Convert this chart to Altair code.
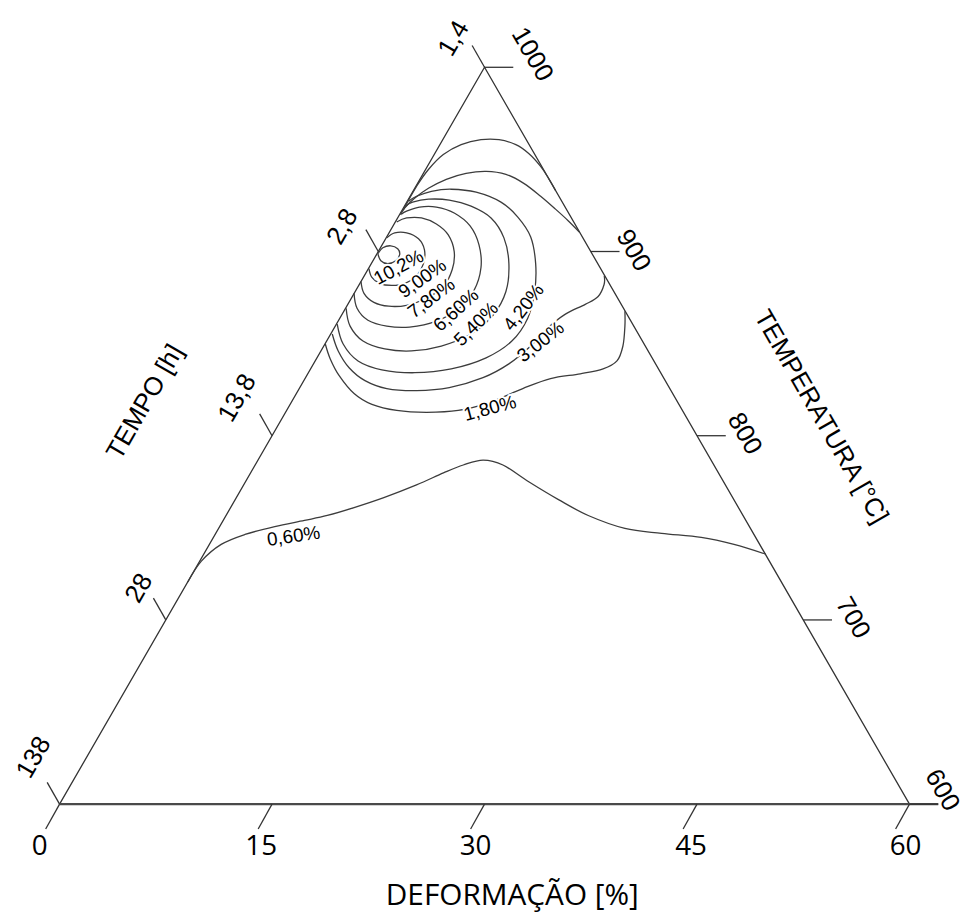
import altair as alt
import pandas as pd

# ---------------- data ----------------
deformacao_ticks = [0, 15, 30, 45, 60]
temperatura_ticks = [1000, 900, 800, 700, 600]
tempo_labels = ["1,4", "2,8", "13,8", "28", "138"]

# contour lines: x = deformação-position (0-60), y = temperatura-position (600-1000)
c060_D = [9.05, 10.01, 11.41, 13.09, 15.19, 17.29, 18.90, 20.79, 22.89, 25.20, 27.10, 28.50, 29.90, 31.30, 33.12, 35.22, 37.32, 39.91, 42.50, 45.30, 47.61, 49.85]
c060_T = [720.6, 731.9, 741.0, 746.4, 750.7, 754.0, 756.7, 761.0, 766.4, 773.3, 779.8, 784.1, 786.8, 784.1, 775.0, 765.3, 756.7, 749.7, 747.0, 744.8, 741.0, 735.7]

c180a_D = [18.76, 19.11, 19.74, 20.79, 22.05, 23.80, 25.90, 28.14, 30.32, 32.70, 34.66, 36.76, 38.37, 39.35, 39.77, 39.91, 39.91]
c180a_T = [849.8, 841.7, 832.6, 822.9, 817.0, 813.7, 812.7, 813.7, 818.0, 825.6, 831.0, 833.6, 836.3, 840.6, 848.7, 859.5, 867.6]
c180b_D = [24.29, 24.64, 25.20, 26.04, 27.09, 28.35, 29.75, 31.02, 32.21, 33.12, 33.96, 34.52, 35.01]
c180b_T = [923.0, 927.9, 935.4, 944.5, 952.6, 958.0, 960.7, 960.7, 958.0, 953.2, 946.2, 939.7, 933.2]

c300a_D = [19.25, 19.67, 20.44, 21.56, 23.10, 25.20, 27.51, 29.89, 31.72, 33.26, 34.45, 35.71, 37.11, 38.02, 38.44, 38.45]
c300a_T = [855.2, 846.0, 836.9, 829.9, 825.6, 824.5, 826.1, 831.5, 839.0, 848.7, 858.4, 866.0, 871.3, 875.6, 882.1, 886.9]
c300b_D = [24.08, 24.36, 25.06, 26.04, 27.30, 28.70, 30.11, 31.51, 32.77, 33.96, 35.01, 35.92, 36.69]
c300b_T = [919.8, 923.6, 928.9, 934.3, 939.2, 942.4, 943.5, 941.9, 937.0, 930.0, 923.0, 916.6, 910.6]

c420_D = [19.60, 20.02, 21.07, 22.75, 25.06, 27.65, 30.11, 31.93, 33.05, 33.54, 33.61, 33.26, 32.35, 31.16, 29.41, 27.65, 26.25, 25.20, 24.64]
c420_T = [860.6, 849.8, 840.6, 835.8, 834.2, 836.3, 842.3, 851.4, 863.8, 878.3, 893.4, 907.9, 918.7, 926.8, 932.2, 933.8, 932.7, 930.0, 927.3]

c540_D = [20.23, 20.51, 21.42, 22.96, 24.85, 26.95, 29.05, 30.60, 31.51, 31.72, 31.37, 30.46, 29.05, 27.51, 26.04, 24.92, 24.43]
c540_T = [869.2, 859.5, 851.4, 847.1, 846.0, 848.7, 855.2, 865.4, 878.3, 893.4, 907.4, 918.2, 924.6, 927.9, 928.4, 926.8, 924.6]

c660_D = [20.79, 21.00, 21.77, 23.10, 24.71, 26.60, 28.21, 29.26, 29.75, 29.61, 28.98, 27.86, 26.60, 25.41, 24.50, 24.15]
c660_T = [877.3, 869.2, 862.7, 859.5, 859.0, 862.2, 869.2, 878.9, 891.3, 903.6, 913.9, 920.9, 924.1, 924.1, 921.9, 920.3]

c780_D = [21.28, 21.49, 22.19, 23.24, 24.50, 25.90, 27.09, 27.72, 27.86, 27.44, 26.60, 25.55, 24.50, 23.80]
c780_T = [883.7, 877.3, 872.4, 870.3, 870.8, 874.6, 881.0, 890.2, 899.9, 909.0, 914.9, 918.2, 918.2, 916.0]

c900_D = [21.84, 22.05, 22.61, 23.45, 24.36, 25.20, 25.69, 25.76, 25.34, 24.50, 23.66, 23.10]
c900_T = [890.7, 885.9, 882.6, 881.6, 882.6, 886.9, 893.4, 900.9, 906.9, 910.1, 910.1, 907.4]

c1020_D = [22.47, 22.82, 23.38, 23.87, 24.01, 23.73, 23.17, 22.68, 22.47]
c1020_T = [898.8, 902.0, 903.1, 901.5, 898.3, 895.0, 893.4, 895.0, 898.8]

contour_labels = ["10,2%", "9,00%", "7,80%", "6,60%", "5,40%", "4,20%", "3,00%", "1,80%", "0,60%"]
contour_label_D = [23.94, 25.62, 26.25, 28.00, 29.41, 32.77, 33.96, 30.39, 16.52]
contour_label_T = [891.3, 885.3, 874.6, 868.1, 860.6, 869.7, 850.9, 814.8, 745.4]
contour_label_angle = [332, 325, 323, 318, 315, 308, 322, 345, 352]

# ---------------- geometry / style ----------------
W, H = 857, 743
SX, SY = W / 60.0, H / 400.0          # pixels per data unit
INK = "#333333"

xs = alt.Scale(domain=[0, 60], nice=False, zero=False)
ys = alt.Scale(domain=[600, 1000], nice=False, zero=False)


def enc(ch, **kw):
    return ch.encode(x=alt.X("D:Q", scale=xs, axis=None),
                     y=alt.Y("T:Q", scale=ys, axis=None), **kw)


def left_edge(t):
    return 30.0 * (t - 600) / 400.0


def right_edge(t):
    return 60.0 - 30.0 * (t - 600) / 400.0


# contour table
segs = [
    ("c060", c060_D, c060_T), ("c180a", c180a_D, c180a_T), ("c180b", c180b_D, c180b_T),
    ("c300a", c300a_D, c300a_T), ("c300b", c300b_D, c300b_T), ("c420", c420_D, c420_T),
    ("c540", c540_D, c540_T), ("c660", c660_D, c660_T), ("c780", c780_D, c780_T),
    ("c900", c900_D, c900_T), ("c1020", c1020_D, c1020_T),
]
rows = []
for name, dd, tt in segs:
    for i, (d, t) in enumerate(zip(dd, tt)):
        rows.append({"seg": name, "i": i, "D": d, "T": t})
contours_df = pd.DataFrame(rows)

contour_lines = enc(
    alt.Chart(contours_df).mark_line(color="#3c3c3c", strokeWidth=1.3, interpolate="cardinal"),
    detail="seg:N", order="i:Q")

# triangle sides
tri_df = pd.DataFrame({"D": [0, 30, 60], "T": [600, 1000, 600], "i": [0, 1, 2]})
sides = enc(alt.Chart(tri_df).mark_line(color=INK, strokeWidth=1.3), order="i:Q")

# ticks
tick_rows = []
for d in deformacao_ticks:  # bottom, parallel to left edge, downward
    tick_rows.append({"D": d, "T": 600, "D2": d - 14.0 / SX, "T2": 600 - 25.0 / SY})
for t in temperatura_ticks:  # right, horizontal
    tick_rows.append({"D": right_edge(t), "T": t, "D2": right_edge(t) + 29.0 / SX, "T2": t})
for k, _ in enumerate(tempo_labels):  # left, parallel to right edge, upward
    t = 1000 - 100 * k
    tick_rows.append({"D": left_edge(t), "T": t, "D2": left_edge(t) - 12.5 / SX, "T2": t + 22.0 / SY})
ticks_df = pd.DataFrame(tick_rows)
ticks = alt.Chart(ticks_df).mark_rule(color=INK, strokeWidth=1.3).encode(
    x=alt.X("D:Q", scale=xs, axis=None), y=alt.Y("T:Q", scale=ys, axis=None),
    x2="D2:Q", y2="T2:Q")

# thick bottom edge (extends to the 600 tick)
base_df = pd.DataFrame({"D": [0], "T": [600], "D2": [60 + 29.0 / SX], "T2": [600]})
base = alt.Chart(base_df).mark_rule(color="#4a4a4a", strokeWidth=2.4).encode(
    x=alt.X("D:Q", scale=xs, axis=None), y=alt.Y("T:Q", scale=ys, axis=None),
    x2="D2:Q", y2="T2:Q")


def label(text, d, t, angle, dx, dy, size, font):
    df = pd.DataFrame({"D": [d], "T": [t], "txt": [text]})
    return enc(alt.Chart(df).mark_text(angle=angle, xOffset=dx, yOffset=dy, fontSize=size,
                                       font=font, align="center", baseline="middle",
                                       color="black"), text="txt:N")


layers = [sides, base, ticks, contour_lines]

# contour labels with white halo
cl_df = pd.DataFrame({"D": contour_label_D, "T": contour_label_T, "txt": contour_labels})
for k in range(len(contour_labels)):
    sub = cl_df.iloc[[k]]
    halo = enc(alt.Chart(sub).mark_text(angle=contour_label_angle[k], fontSize=19,
                                        font="Liberation Sans", align="center", baseline="middle",
                                        stroke="white", strokeWidth=4, color="white"), text="txt:N")
    txt = enc(alt.Chart(sub).mark_text(angle=contour_label_angle[k], fontSize=19,
                                       font="Liberation Sans", align="center", baseline="middle",
                                       color="black"), text="txt:N")
    layers += [halo, txt]

# tick labels
bottom_nudge = [(-20, 43), (-11, 43), (-9, 43), (-6, 43), (-4, 43)]
for d, (dx, dy) in zip(deformacao_ticks, bottom_nudge):
    layers.append(label(str(d), d, 600, 0, dx, dy, 28, "Open Sans"))

right_nudge = [(48, -13), (43, -1), (48, -2), (50, -2), (33, -14)]
for t, (dx, dy) in zip(temperatura_ticks, right_nudge):
    layers.append(label(str(t), right_edge(t), t, 60, dx, dy, 26, "Liberation Sans"))

left_nudge = [(-31, -29), (-36, -25), (-35, -38), (-27, -32), (-26, -47)]
for k, (txt, (dx, dy)) in enumerate(zip(tempo_labels, left_nudge)):
    t = 1000 - 100 * k
    layers.append(label(txt, left_edge(t), t, 300, dx, dy, 26, "Liberation Sans"))

# axis titles
layers.append(label("TEMPO [h]", 15, 800, 300, -128, -34, 26, "Liberation Sans"))
layers.append(label("TEMPERATURA [°C]", 45, 800, 60, 125, -19, 26, "Liberation Sans"))
layers.append(label("DEFORMAÇÃO [%]", 30, 600, 0, 28, 93, 30, "Open Sans"))

chart = alt.layer(*layers).properties(
    width=W, height=H,
    autosize=alt.AutoSizeParams(type="none"),
    padding={"left": 52, "top": 56, "right": 59, "bottom": 109},
    background="white",
).configure_view(stroke=None)

chart.save("out.html", embed_options={"renderer": "svg", "actions": False})
